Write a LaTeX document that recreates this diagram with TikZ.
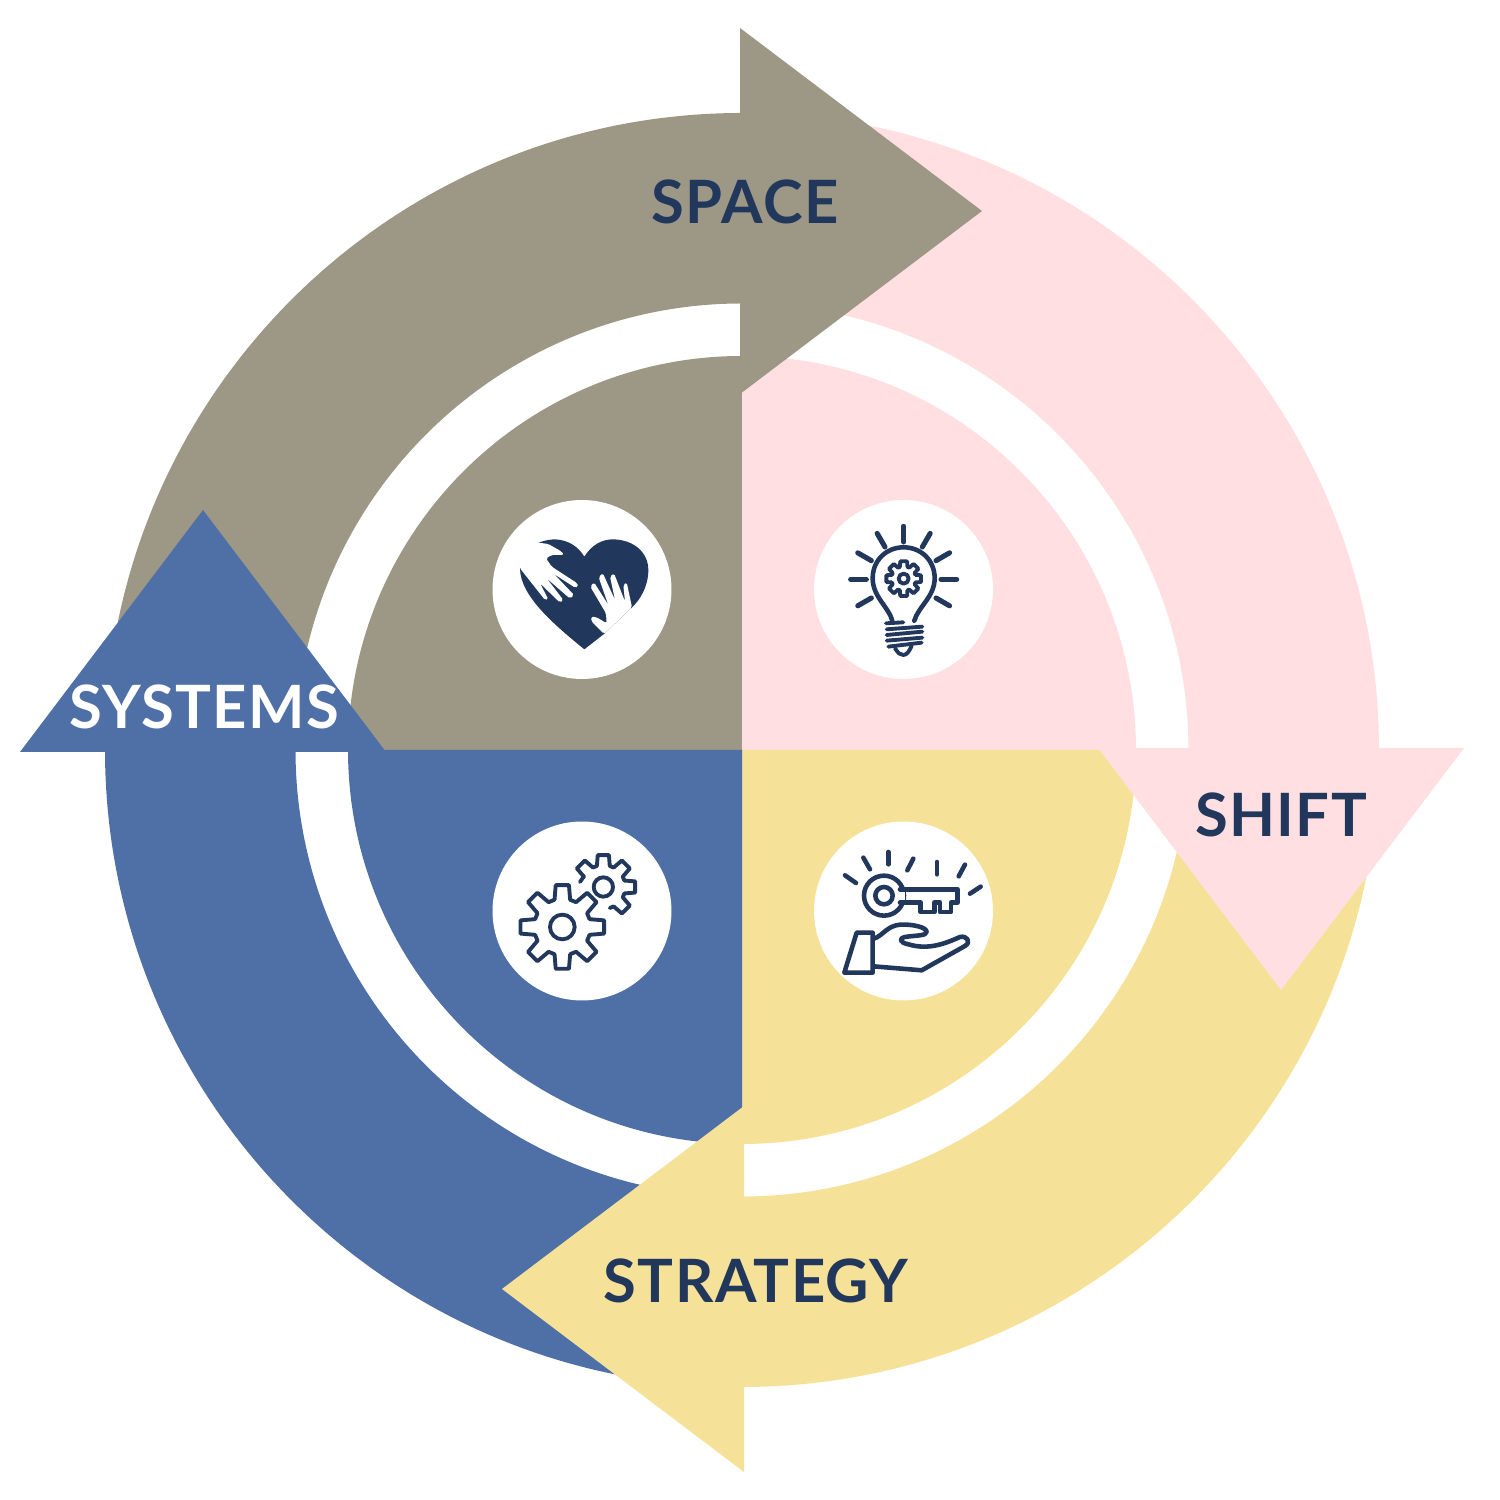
\documentclass[tikz,border=0pt]{standalone}
\usepackage{xcolor}
\usepackage{fontspec}
\setmainfont{Lato}[LetterSpace=2.4]
\usepackage{tikz}
\definecolor{spacecol}{HTML}{9C9885}
\definecolor{shiftcol}{HTML}{FFDFE1}
\definecolor{strategycol}{HTML}{F6E198}
\definecolor{systemscol}{HTML}{4F70A6}
\definecolor{navy}{HTML}{21375B}
\newcommand{\drawgear}[6]{%
  \begin{scope}[shift={#1}]
    \foreach \a in {#6} {
      \draw[iconline] (\a-#5:#3) -- (\a-#4:#2) -- (\a+#4:#2) -- (\a+#5:#3) -- (\a+45-#5:#3);
    }
  \end{scope}}

\begin{document}
\begin{tikzpicture}[
    x=0.02cm, y=0.02cm,
    label/.style={font=\fontsize{34}{40}\selectfont\bfseries, text=navy, inner sep=0pt},
    badge/.style={circle, fill=white, minimum size=3.58cm, inner sep=0pt},
    icon/.style={x=0.02cm/3, y=-0.02cm/3},
    iconline/.style={draw=navy, line width=2.2pt, line join=round, line cap=round},
    keyline/.style={draw=navy, line width=2.6pt, line join=round, line cap=round}
]
\useasboundingbox (0,0) rectangle (1500,1500);
% quadrants and rings
\foreach \col [count=\i from 0] in {spacecol,shiftcol,strategycol,systemscol} {
  \begin{scope}[shift={(742,750)}, rotate=-90*\i]
    \fill[\col] (0,0) -- (180:394) arc (180:90:394) -- cycle;
    \fill[\col] (180:637) arc (180:90:637) -- (90:446.5) arc (90:180:446.5) -- cycle;
  \end{scope}
}
% arrow heads
\foreach \col [count=\i from 0] in {spacecol,shiftcol,strategycol,systemscol} {
  \begin{scope}[shift={(742,750)}, rotate=-90*\i]
    \fill[\col] (-2,722) -- (240,539) -- (-2,356) -- cycle;
  \end{scope}
}
\node[label] (space) at (745,1298) {SPACE};
\node[label] (shift) at (1281,685) {SHIFT};
\node[label] (strategy) at (756,219) {STRATEGY};
\node[label, text=white] (systems) at (204,793) {SYSTEMS};

\node[badge] (heartbadge) at (582,910.5) {};
\node[badge] (bulbbadge) at (903.5,910.5) {};
\node[badge] (gearbadge) at (582,589) {};
\node[badge] (keybadge) at (903.5,589) {};

% heart
\begin{scope}[shift={(480,1010)}, icon]
  \fill[navy] (313,478) .. controls (230,410) and (120,320) .. (120,235)
    .. controls (125,180) and (170,150) .. (225,148)
    .. controls (265,150) and (295,170) .. (313,200)
    .. controls (335,165) and (365,148) .. (400,148)
    .. controls (465,150) and (505,190) .. (505,240)
    .. controls (505,290) and (480,330) .. (456,352)
    -- (372,432) -- cycle;
  \fill[white, rounded corners=1pt] (120,235) -- (100,155) -- (175,158) -- (205,162) -- (245,185) -- (252,195) -- (215,195) -- (198,205)
    -- (215,230) -- (292,280) -- (295,290) -- (285,293) -- (222,252) -- (282,315) -- (270,326)
    -- (200,265) -- (250,330) -- (240,338) -- (180,280) -- (205,328) -- (195,330) -- cycle;
  \fill[white, rounded corners=1pt] (372,432) -- (335,395) -- (333,380) -- (350,382) -- (380,400) -- (378,370) -- (331,290)
    -- (342,277) -- (385,345) -- (356,262) -- (368,249) -- (405,330) -- (390,260) -- (402,250)
    -- (435,335) -- (430,285) -- (440,277) -- (456,352) -- cycle;
\end{scope}

% bulb
\begin{scope}[shift={(805,1010)}, icon]
  \foreach \a in {0,-30,-60,-90,-120,-150,180,30,150} {
    \draw[keyline, line width=2.9pt] (296,268) ++(\a:112) -- ++(\a:47);
  }
  \draw[iconline, line width=2.6pt] (262,392) .. controls (250,350) and (203,320) .. (203,265)
    .. controls (203,210) and (245,172) .. (296,172)
    .. controls (347,172) and (389,210) .. (389,265)
    .. controls (389,320) and (340,350) .. (328,392);
  \draw[iconline] (243,400) -- (295,397);
  \draw[iconline] (245,418) -- (352,410);
  \draw[iconline] (245,435) -- (352,425);
  \draw[iconline] (245,452) -- (352,443);
  \draw[iconline] (250,470) -- (350,458);
  \draw[iconline] (270,475) .. controls (280,490) and (285,495) .. (295,495) .. controls (305,495) and (312,485) .. (320,468);
  \drawgear{(296,266)}{53}{37}{11}{18}{0,45,90,135,180,225,270,315}
  \draw[iconline] (296,266) circle[radius=15];
\end{scope}

% gears
\begin{scope}[shift={(480,688)}, icon]
  \drawgear{(247,345)}{127}{85}{9}{16}{0,45,90,135,180,225,270,315}
  \draw[iconline] (247,345) circle[radius=37];
  \drawgear{(370,225)}{97}{66}{10}{17}{-135,-90,-45,0,45}
  \draw[iconline] (312,193) -- (300,210);
  \draw[iconline] (370,225) circle[radius=29];
\end{scope}

% key and hand
\begin{scope}[shift={(805,688)}, icon]
  \draw[keyline] (120,190) -- (153,213);
  \draw[keyline] (175,137) -- (195,172);
  \draw[keyline] (250,120) -- (250,157);
  \draw[keyline] (325,140) -- (307,175);
  \draw[keyline] (396,150) -- (396,187);
  \draw[keyline] (480,158) -- (461,193);
  \draw[keyline] (527,224) -- (495,245);
  \draw[keyline, fill=white] (237,251) circle[radius=60];
  \fill[white] (280,238) rectangle (300,266);
  \draw[keyline] (285,232) -- (458,232) -- (458,272) -- (438,272) -- (438,300) -- (405,300) -- (405,272) -- (388,272)
    -- (388,300) -- (347,300) -- (347,272) -- (285,272);
  \draw[keyline] (237,251) circle[radius=26];
  \draw[keyline] (155,362) -- (203,362) -- (203,482) -- (118,482) -- cycle;
  \draw[keyline] (207,380) .. controls (235,370) and (245,342) .. (285,338)
    .. controls (320,336) and (365,345) .. (365,360)
    .. controls (365,372) and (330,370) .. (300,375)
    .. controls (280,380) and (285,392) .. (310,397)
    .. controls (370,415) and (420,395) .. (465,375)
    .. controls (485,370) and (500,390) .. (480,402)
    -- (350,475) -- (205,463);
\end{scope}
\end{tikzpicture}
\end{document}
